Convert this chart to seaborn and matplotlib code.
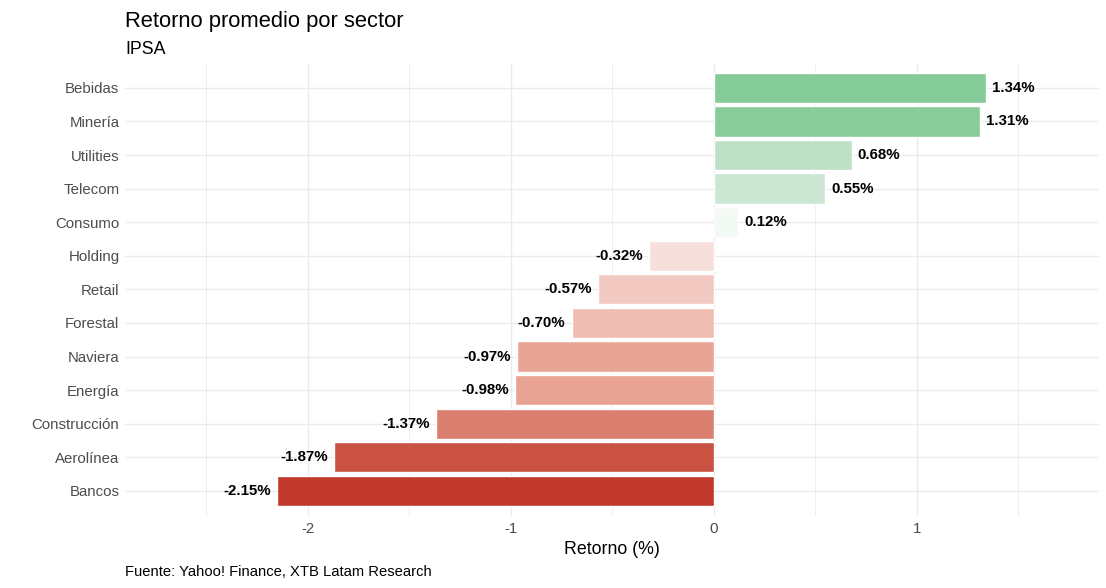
import matplotlib
matplotlib.use('Agg')
import matplotlib.pyplot as plt
from matplotlib.colors import LinearSegmentedColormap, Normalize, to_hex
import pandas as pd
import seaborn as sns

sectores = ['Bebidas', 'Minería', 'Utilities', 'Telecom', 'Consumo', 'Holding', 'Retail',
            'Forestal', 'Naviera', 'Energía', 'Construcción', 'Aerolínea', 'Bancos']
retornos = [1.34, 1.31, 0.68, 0.55, 0.12, -0.32, -0.57, -0.70, -0.97, -0.98, -1.37, -1.87, -2.15]

df = pd.DataFrame({'sector': sectores, 'retorno': retornos})

sns.set_theme(style='whitegrid')
plt.rcParams['font.family'] = ['Liberation Sans', 'DejaVu Sans']

# diverging fill centred at zero, symmetric like scale_fill_gradient2
cmap = LinearSegmentedColormap.from_list(
    'div', [(0, '#c0392b'), (0.27, '#e8a393'), (0.5, '#ffffff'), (0.66, '#bee0c6'), (1, '#3fb062')])
lim = max(abs(v) for v in retornos)
norm = Normalize(-lim, lim)
palette = {s: to_hex(cmap(norm(v))) for s, v in zip(sectores, retornos)}

fig = plt.figure(figsize=(11.06, 5.88), dpi=100)
ax = fig.add_axes([0.113, 0.1224, 0.881, 0.771])

sns.barplot(data=df, x='retorno', y='sector', hue='sector', palette=palette, orient='h',
            width=0.9, legend=False, edgecolor='white', linewidth=1, saturation=1, ax=ax)

for i, v in enumerate(retornos):
    if v >= 0:
        ax.text(v + 0.03, i, f'{v:.2f}%', ha='left', va='center', fontsize=10.8, fontweight='bold', color='black')
    else:
        ax.text(v - 0.03, i, f'{v:.2f}%', ha='right', va='center', fontsize=10.8, fontweight='bold', color='black')

ax.set_xlim(-2.9, 1.9)
ax.set_ylim(12.75, -0.75)
ax.set_xticks([-2, -1, 0, 1])
ax.set_xticklabels(['-2', '-1', '0', '1'])
ax.set_xticks([-2.5, -1.5, -0.5, 0.5, 1.5], minor=True)
ax.grid(True, which='major', color='#ebebeb', linewidth=1)
ax.grid(True, which='minor', axis='x', color='#ebebeb', linewidth=0.6)
ax.set_axisbelow(True)
for s in ax.spines.values():
    s.set_visible(False)
ax.tick_params(axis='both', which='both', length=0, labelsize=10.8, labelcolor='#4d4d4d', pad=4)
ax.set_xlabel('Retorno (%)', fontsize=12.8, color='black', labelpad=4)
ax.set_ylabel('')

fig.text(0.113, 0.964, 'Retorno promedio por sector', fontsize=15.8, color='black', va='center', ha='left')
fig.text(0.113, 0.916, 'IPSA', fontsize=12.8, color='black', va='center', ha='left')
fig.text(0.113, 0.028, 'Fuente: Yahoo! Finance, XTB Latam Research', fontsize=10.6, color='black', va='center', ha='left')

fig.savefig('out.png', dpi=100, facecolor='white')
